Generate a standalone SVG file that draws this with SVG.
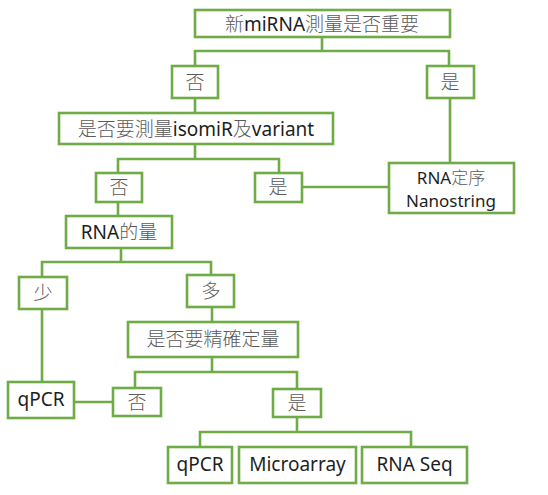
<svg xmlns="http://www.w3.org/2000/svg" width="548" height="495" viewBox="0 0 548 495">
<style>
rect{fill:#fff;stroke:#6fac46;stroke-width:2.6}
.c path{fill:none;stroke:#6fac46;stroke-width:2.6}
text{font-family:"Noto Sans","Noto Sans CJK TC",sans-serif;font-size:19px;fill:#1e1e1e;text-anchor:middle}
.h{font-family:"Noto Sans CJK TC","Noto Sans CJK SC",sans-serif;fill:#5a5a5a;font-weight:300}
.s{font-size:17px}
</style>
<rect x="0" y="0" width="548" height="495" style="fill:#fff;stroke:none"/>
<g class="c" id="connectors">
<path d="M322 37V51M195 66V51H449V66"/>
<path d="M195 98V113"/>
<path d="M450 98V163"/>
<path d="M195 144V159M118 173V159H279V173"/>
<path d="M302 187H389"/>
<path d="M118 202V216"/>
<path d="M121 248V262M42 277V262H211V275"/>
<path d="M42 309V382"/>
<path d="M212 307V322"/>
<path d="M212 357V372M135 388V372H297V389"/>
<path d="M74 402H113"/>
<path d="M297 417V432M200 447V432H411V447"/>
</g>
<g id="n1"><rect x="195" y="10" width="255" height="27"/><text x="322" y="31"><tspan class="h">新</tspan>miRNA<tspan class="h">測量是否重要</tspan></text></g>
<g id="n2"><rect x="172" y="66" width="46" height="32"/><text x="195" y="89" class="h">否</text></g>
<g id="n3"><rect x="427" y="66" width="47" height="32"/><text x="450" y="89" class="h">是</text></g>
<g id="n4"><rect x="59" y="113" width="274" height="31"/><text x="196" y="136"><tspan class="h">是否要測量</tspan>isomiR<tspan class="h">及</tspan>variant</text></g>
<g id="n5"><rect x="96" y="173" width="46" height="29"/><text x="119" y="194" class="h">否</text></g>
<g id="n6"><rect x="255" y="173" width="47" height="29"/><text x="278" y="194" class="h">是</text></g>
<g id="n7"><rect x="389" y="163" width="125" height="50"/><text class="s" x="451" y="184">RNA<tspan class="h">定序</tspan></text><text class="s" x="451" y="207">Nanostring</text></g>
<g id="n8"><rect x="66" y="216" width="106" height="32"/><text x="119" y="239">RNA<tspan class="h">的量</tspan></text></g>
<g id="n9"><rect x="19" y="277" width="48" height="32"/><text x="43" y="300" class="h">少</text></g>
<g id="n10"><rect x="187" y="275" width="47" height="32"/><text x="211" y="298" class="h">多</text></g>
<g id="n11"><rect x="128" y="322" width="170" height="35"/><text x="213" y="346" class="h">是否要精確定量</text></g>
<g id="n12"><rect x="8" y="382" width="66" height="36"/><text x="41" y="406">qPCR</text></g>
<g id="n13"><rect x="113" y="388" width="48" height="28"/><text x="137" y="409" class="h">否</text></g>
<g id="n14"><rect x="273" y="389" width="48" height="28"/><text x="297" y="410" class="h">是</text></g>
<g id="n15"><rect x="168" y="447" width="64" height="36"/><text x="200" y="471">qPCR</text></g>
<g id="n16"><rect x="239" y="447" width="117" height="36"/><text x="297.5" y="471">Microarray</text></g>
<g id="n17"><rect x="362" y="447" width="105" height="36"/><text x="414.5" y="471">RNA Seq</text></g>
</svg>
